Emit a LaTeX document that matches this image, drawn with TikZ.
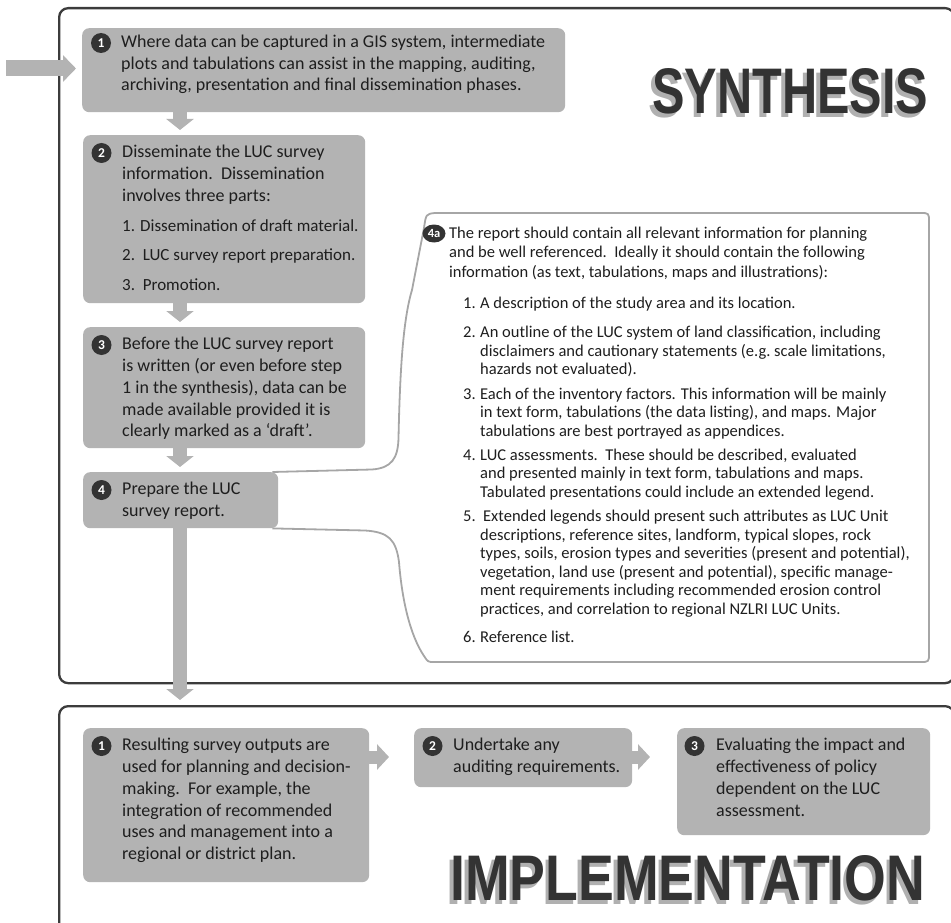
\documentclass[tikz,border=0pt]{standalone}
\usepackage{fontspec}
\usepackage{graphicx}
\setmainfont{Carlito}
\newfontfamily\titlefont{Liberation Sans}
\usetikzlibrary{arrows.meta,calc,shapes.geometric}
\definecolor{boxgray}{HTML}{B3B3B3}
\definecolor{framegray}{HTML}{3C3C3C}
\definecolor{outlinegray}{HTML}{A6A6A6}
\definecolor{icongray}{HTML}{333333}
\definecolor{titledark}{HTML}{333333}
\definecolor{titleshadow}{HTML}{B0B0B0}
\definecolor{textdark}{HTML}{1E1E1E}
\newcommand\lucitem[1]{\hspace*{14pt}\makebox[17pt][l]{#1}}
\newcommand\lucind{\hspace*{31pt}}
\newcommand\lucsub{\fontsize{17}{21.8}\selectfont}
\begin{document}
\begin{tikzpicture}[x=1pt,y=-1pt,
  frame/.style={draw=framegray,line width=2.3pt,rounded corners=9pt,anchor=north west,inner sep=0pt},
  stepbox/.style={fill=boxgray,rounded corners=7pt,inner sep=0pt,anchor=north west},
  steptext/.style={anchor=north west,inner sep=0pt,align=left,text=textdark,font=\fontsize{18}{21.8}\selectfont},
  smalltext/.style={anchor=north west,inner sep=0pt,align=left,text=textdark,font=\fontsize{16.5}{18.5}\selectfont},
  num/.style={circle,fill=icongray,text=white,inner sep=0pt,minimum size=20pt,font=\bfseries\fontsize{13.5}{13.5}\selectfont},
  titlestyle/.style={anchor=north west,inner sep=0pt,text=titledark,font=\titlefont\bfseries},
  outline4a/.style={draw=outlinegray,line width=1.8pt,line join=round},
  vflow/.style={draw=boxgray,line width=14pt,-{Triangle[width=27pt,length=11pt]},shorten >=5pt},
  hflow/.style={draw=boxgray,line width=13pt,-{Triangle[width=25pt,length=12pt]}},
  inflow/.style={draw=boxgray,line width=16pt,-{Triangle[width=26pt,length=13pt]},shorten >=6pt},
]
\useasboundingbox (0,0) rectangle (951,923);

% frames
\node[frame,minimum width=895pt,minimum height=675pt] (synth) at (58,7) {};
\node[frame,minimum width=895pt,minimum height=235pt] (impl) at (58,705) {};

% titles
\node[titlestyle,text=titleshadow] (synthsh) at (648.5,72.5) {\resizebox{276pt}{45pt}{SYNTHESIS}};
\node[titlestyle] (synthtitle) at (652,68) {\resizebox{276pt}{45pt}{SYNTHESIS}};
\node[titlestyle,text=titleshadow] (implsh) at (446.5,859.5) {\resizebox{475pt}{45pt}{IMPLEMENTATION}};
\node[titlestyle] (impltitle) at (450,855) {\resizebox{475pt}{45pt}{IMPLEMENTATION}};

% synthesis step boxes
\node[stepbox,minimum width=483pt,minimum height=84pt] (b1) at (82,28) {};
\node[stepbox,minimum width=282pt,minimum height=168pt] (b2) at (83,135) {};
\node[stepbox,minimum width=282pt,minimum height=121pt] (b3) at (83,327) {};

% 4a outline (callout from step 4)
\node[stepbox,minimum width=195pt,minimum height=56pt,fill=none] (b4) at (83,472) {};
\draw[outline4a] ($(b4.north east)+(-6,0)$) -- (372,469.5)
  .. controls (392,468) and (398,458) .. (398.5,438)
  .. controls (400,370) and (403,320) .. (412,290)
  -- (424,228)
  .. controls (426,214) .. (435,213)
  -- (920,213)
  .. controls (929,213) .. (929,222)
  -- (929,653)
  .. controls (929,662) .. (920,662)
  -- (434,662)
  .. controls (428,662) .. (424,656)
  .. controls (410,635) and (402,600) .. (399,562)
  .. controls (396,540) and (389,532) .. (365,530.5)
  -- ($(b4.south east)+(-6,0)$);
\node[stepbox,minimum width=195pt,minimum height=56pt] (b4fill) at (b4.north west) {};

% implementation step boxes
\node[stepbox,minimum width=286pt,minimum height=154pt] (i1) at (83,728) {};
\node[stepbox,minimum width=218pt,minimum height=59pt] (i2) at (414,728) {};
\node[stepbox,minimum width=253pt,minimum height=107pt] (i3) at (677,728) {};

% icons
\node[num] (n1) at ($(b1.north west)+(19,15)$) {1};
\node[num] (n2) at ($(b2.north west)+(18.5,18)$) {2};
\node[num] (n3) at ($(b3.north west)+(18.5,18)$) {3};
\node[num] (n4) at ($(b4.north west)+(18.5,18)$) {4};
\node[ellipse,fill=icongray,text=white,inner sep=0pt,minimum width=23pt,minimum height=18pt,font=\bfseries\fontsize{12.5}{12.5}\selectfont] (n4a) at (434,233.5) {4a};
\node[num] (m1) at ($(i1.north west)+(18.5,18)$) {1};
\node[num] (m2) at ($(i2.north west)+(18.5,18)$) {2};
\node[num] (m3) at ($(i3.north west)+(17.5,18)$) {3};

% texts
\node[steptext] (t1) at ($(b1.north west)+(39,6.6)$) {Where data can be captured in a GIS system, intermediate\\plots and tabulations can assist in the mapping, auditing,\\archiving, presentation and final dissemination phases.};
\node[steptext] (t2) at ($(b2.north west)+(39,10)$) {Disseminate the LUC survey\\information.\ \ Dissemination\\involves three parts:\\[8pt]{\lucsub 1. Dissemination of draft material.}\\[8pt]{\lucsub 2.\ \ LUC survey report preparation.}\\[8pt]{\lucsub 3.\ \ Promotion.}};
\node[steptext] (t3) at ($(b3.north west)+(39,10)$) {Before the LUC survey report\\is written (or even before step\\1 in the synthesis), data can be\\made available provided it is\\clearly marked as a `draft'.};
\node[steptext] (t4) at ($(b4.north west)+(39,10)$) {Prepare the LUC\\survey report.};
\node[smalltext] (t4a) at (449,226.5) {The report should contain all relevant information for planning\\[1pt]
and be well referenced.\ \ Ideally it should contain the following\\[1pt]
information (as text, tabulations, maps and illustrations):\\[12.9pt]
\lucitem{1.}A description of the study area and its location.\\[10.5pt]
\lucitem{2.}An outline of the LUC system of land classification, including\\
\lucind disclaimers and cautionary statements (e.g.\ scale limitations,\\
\lucind hazards not evaluated).\\[6pt]
\lucitem{3.}Each of the inventory factors. This information will be mainly\\
\lucind in text form, tabulations (the data listing), and maps. Major\\
\lucind tabulations are best portrayed as appendices.\\[5.5pt]
\lucitem{4.}LUC assessments.\ \ These should be described, evaluated\\
\lucind and presented mainly in text form, tabulations and maps.\\
\lucind Tabulated presentations could include an extended legend.\\[6.3pt]
\lucitem{5.}\hspace{3pt}Extended legends should present such attributes as LUC Unit\\
\lucind descriptions, reference sites, landform, typical slopes, rock\\
\lucind types, soils, erosion types and severities (present and potential),\\
\lucind vegetation, land use (present and potential), specific manage-\\
\lucind ment requirements including recommended erosion control\\
\lucind practices, and correlation to regional NZLRI LUC Units.\\[9.8pt]
\lucitem{6.}Reference list.};
\node[steptext] (u1) at ($(i1.north west)+(39,10)$) {Resulting survey outputs are\\used for planning and decision-\\making.\ \ For example, the\\integration of recommended\\uses and management into a\\regional or district plan.};
\node[steptext] (u2) at ($(i2.north west)+(39,10)$) {Undertake any\\auditing requirements.};
\node[steptext] (u3) at ($(i3.north west)+(39,10)$) {Evaluating the impact and\\effectiveness of policy\\dependent on the LUC\\assessment.};

% connectors
\coordinate (axis) at (180,0);
\coordinate (inlet) at (6,68.5);
\coordinate (hrow) at (0,757);
\draw[inflow] (inlet) -- (b1.west |- inlet);
\draw[vflow] (b1.south -| axis) -- (b2.north -| axis);
\draw[vflow] (b2.south -| axis) -- (b3.north -| axis);
\draw[vflow] (b3.south -| axis) -- (b4.north -| axis);
\draw[vflow] (b4.south -| axis) -- (impl.north -| axis);
\draw[hflow,shorten >=25pt] (i1.east |- hrow) -- (i2.west |- hrow);
\draw[hflow,shorten >=27pt] (i2.east |- hrow) -- (i3.west |- hrow);
\end{tikzpicture}
\end{document}
